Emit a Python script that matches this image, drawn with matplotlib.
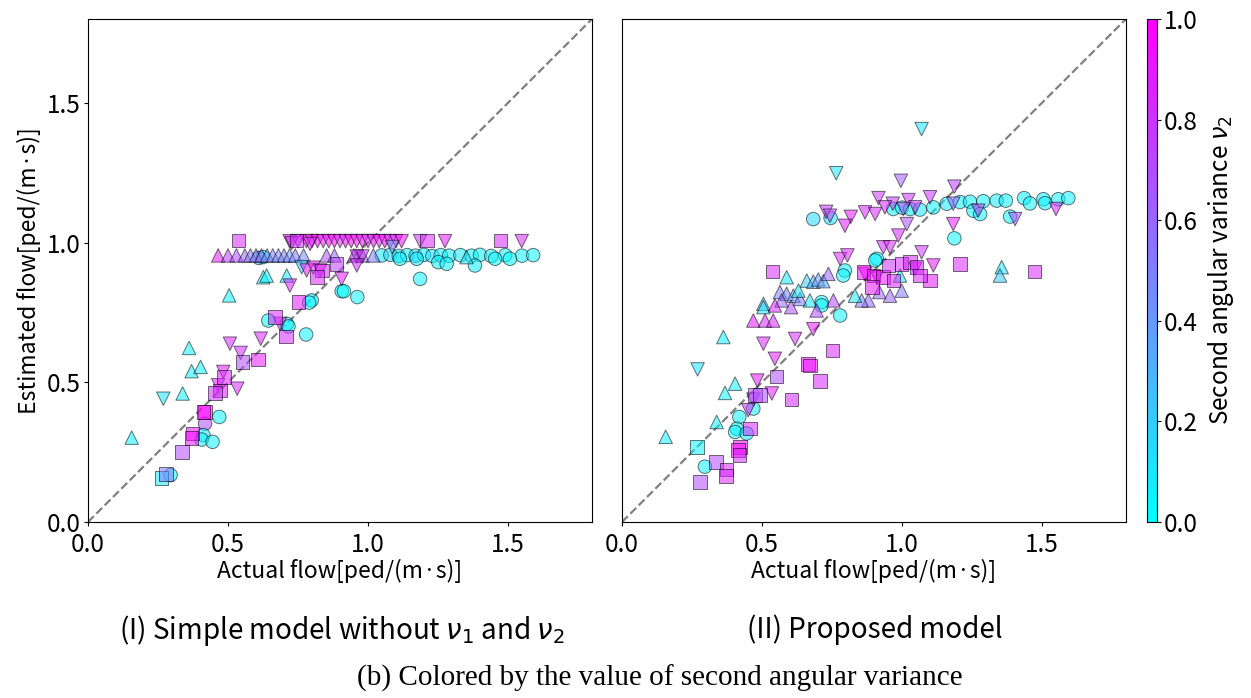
import numpy as np
import matplotlib.pyplot as plt

plt.rcParams['font.family'] = ['Noto Sans CJK JP', 'DejaVu Sans']

# ==== DATA: panel (I) simple model ====
l_circ_x = [1.049, 1.08, 1.11, 1.14, 1.17, 1.20, 1.23, 1.26, 1.29, 1.33, 1.37, 1.40, 1.44, 1.49, 1.55, 1.59,
            1.114, 1.174, 1.251, 1.281, 1.382, 1.454, 1.507, 1.186, 0.906, 0.914, 0.962, 0.799, 0.790,
            0.644, 0.710, 0.716, 0.779, 0.469, 0.418, 0.412, 0.406, 0.445, 0.295, 0.61, 0.625]
l_circ_y = [0.954, 0.956, 0.952, 0.955, 0.953, 0.956, 0.952, 0.955, 0.953, 0.955, 0.953, 0.956, 0.952, 0.955, 0.953, 0.955,
            0.942, 0.942, 0.930, 0.924, 0.918, 0.942, 0.942, 0.870, 0.826, 0.826, 0.805, 0.793, 0.785,
            0.721, 0.709, 0.700, 0.671, 0.376, 0.352, 0.311, 0.295, 0.287, 0.168, 0.945, 0.948]
l_circ_c = [0.1, 0.15, 0.1, 0.05, 0.1, 0.05, 0.1, 0.05, 0.05, 0.1, 0.05, 0.05, 0.05, 0.05, 0.05, 0.05,
            0.05, 0.1, 0.05, 0.05, 0.05, 0.05, 0.0, 0.05, 0.05, 0.0, 0.05, 0.05, 0.05,
            0.05, 0.05, 0.05, 0.05, 0.05, 0.7, 0.05, 0.05, 0.05, 0.05, 0.2, 0.15]

l_up_x = [0.465, 0.50, 0.53, 0.56, 0.58, 0.60, 0.62, 0.64, 0.66, 0.68, 0.70, 0.72, 0.74, 0.77,
          0.852, 0.88, 0.95, 0.98, 1.019, 1.352, 0.626, 0.638, 0.710, 0.504, 0.361, 0.370, 0.402, 0.338, 0.156]
l_up_y = [0.954, 0.954, 0.954, 0.954, 0.954, 0.954, 0.954, 0.954, 0.954, 0.954, 0.954, 0.954, 0.954, 0.954,
          0.954, 0.954, 0.954, 0.954, 0.954, 0.948, 0.876, 0.882, 0.882, 0.811, 0.623, 0.540, 0.555, 0.460, 0.302]
l_up_c = [0.9, 0.75, 0.7, 0.6, 0.5, 0.55, 0.6, 0.4, 0.5, 0.45, 0.5, 0.4, 0.5, 0.45,
          0.7, 0.6, 0.7, 0.6, 0.5, 0.1, 0.05, 0.05, 0.05, 0.05, 0.05, 0.05, 0.05, 0.05, 0.05]

l_down_x = [0.72, 0.75, 0.78, 0.80, 0.82, 0.84, 0.86, 0.88, 0.90, 0.92, 0.94, 0.96, 0.98, 1.00,
            1.02, 1.04, 1.06, 1.08, 1.10, 1.12, 1.186, 1.275, 1.549, 0.727, 0.793, 1.086, 0.96, 0.98,
            0.763, 0.781, 0.805, 0.829, 0.906, 0.960, 0.721, 0.686, 0.617, 0.507, 0.545, 0.483,
            0.465, 0.533, 0.269]
l_down_y = [1.005, 1.005, 1.005, 1.005, 1.005, 1.005, 1.005, 1.005, 1.005, 1.005, 1.005, 1.005, 1.005, 1.005,
            1.005, 1.005, 1.005, 1.005, 1.005, 1.005, 1.005, 1.005, 1.005, 0.998, 0.995, 0.984, 0.95, 0.95,
            0.912, 0.900, 0.910, 0.900, 0.870, 0.918, 0.846, 0.709, 0.656, 0.638, 0.605, 0.537,
            0.489, 0.477, 0.441]
l_down_c = [0.9, 0.95, 1.0, 0.95, 1.0, 0.9, 0.95, 1.0, 0.85, 0.95, 1.0, 0.9, 0.95, 0.85,
            0.95, 0.9, 1.0, 0.85, 0.9, 0.95, 0.8, 0.9, 0.85, 0.85, 0.85, 0.45, 0.8, 0.8,
            0.2, 0.9, 0.9, 0.9, 0.9, 0.85, 0.85, 0.85, 0.85, 0.85, 0.85, 0.9,
            0.9, 0.85, 0.1]

l_sq_x = [0.537, 0.745, 1.21, 1.474, 0.835, 0.817, 0.888, 0.751, 0.668, 0.707, 0.551, 0.608, 0.486,
          0.471, 0.454, 0.418, 0.412, 0.374, 0.370, 0.335, 0.263, 0.278]
l_sq_y = [1.007, 1.007, 1.007, 1.007, 0.900, 0.876, 0.924, 0.787, 0.733, 0.664, 0.573, 0.581, 0.519,
          0.471, 0.462, 0.394, 0.394, 0.317, 0.300, 0.251, 0.158, 0.171]
l_sq_c = [0.85, 0.8, 0.85, 0.85, 0.85, 0.85, 0.75, 0.9, 0.85, 0.85, 0.7, 0.9, 0.85,
          0.9, 0.8, 1.0, 0.95, 0.95, 0.95, 0.7, 0.1, 0.5]

# ==== DATA: panel (II) proposed model ====
r_circ_x = [0.683, 0.745, 0.969, 1.00, 1.029, 1.064, 1.112, 1.160, 1.207, 1.243, 1.290, 1.338, 1.371,
            1.436, 1.457, 1.505, 1.511, 1.558, 1.594, 1.255, 1.279, 1.386, 1.187, 0.910, 0.904, 0.796,
            0.790, 0.713, 0.713, 0.779, 0.469, 0.419, 0.410, 0.404, 0.445, 0.296]
r_circ_y = [1.084, 1.088, 1.120, 1.125, 1.120, 1.118, 1.126, 1.139, 1.145, 1.146, 1.148, 1.150, 1.150,
            1.159, 1.140, 1.155, 1.141, 1.155, 1.159, 1.114, 1.102, 1.093, 1.015, 0.942, 0.936, 0.900,
            0.882, 0.787, 0.775, 0.739, 0.406, 0.376, 0.334, 0.322, 0.317, 0.198]
r_circ_c = [0.15, 0.1, 0.05, 0.1, 0.05, 0.1, 0.05, 0.1, 0.05, 0.05, 0.05, 0.1, 0.05,
            0.05, 0.05, 0.05, 0.05, 0.05, 0.05, 0.05, 0.05, 0.05, 0.05, 0.05, 0.05, 0.05,
            0.05, 0.05, 0.05, 0.05, 0.05, 0.05, 0.05, 0.05, 0.05, 0.05]

r_down_x = [1.070, 0.765, 0.996, 1.187, 0.916, 0.967, 1.023, 1.100, 0.939, 1.005, 1.047, 0.868, 0.904,
            0.729, 0.743, 0.817, 0.796, 1.183, 1.272, 1.404, 1.550, 1.183, 0.987, 1.017, 0.933, 0.957,
            1.070, 0.779, 0.805, 0.868, 0.910, 1.047, 1.112, 0.505, 0.618, 0.683, 0.546, 0.270, 0.483,
            0.535, 0.469, 0.451]
r_down_y = [1.406, 1.248, 1.221, 1.200, 1.159, 1.139, 1.152, 1.162, 1.126, 1.120, 1.126, 1.108, 1.102,
            1.110, 1.096, 1.092, 1.060, 1.066, 1.114, 1.084, 1.120, 1.139, 1.025, 1.066, 0.983, 0.983,
            0.965, 0.941, 0.954, 0.888, 0.876, 0.906, 0.918, 0.638, 0.655, 0.690, 0.584, 0.546, 0.506,
            0.460, 0.438, 0.400]
r_down_c = [0.1, 0.1, 0.65, 0.75, 0.8, 0.75, 0.8, 0.8, 0.85, 0.7, 0.8, 0.85, 0.85,
            0.8, 0.75, 0.9, 0.9, 0.9, 0.75, 0.7, 0.85, 0.6, 0.85, 0.7, 0.85, 0.85,
            0.8, 0.85, 0.85, 0.95, 0.95, 0.9, 0.9, 0.85, 0.85, 0.9, 0.9, 0.1, 0.9,
            0.9, 0.75, 0.85]

r_up_x = [0.919, 0.957, 0.999, 0.880, 0.856, 0.993, 0.832, 1.356, 1.350, 0.588, 0.660, 0.683, 0.701,
          0.719, 0.737, 0.564, 0.588, 0.612, 0.636, 0.630, 0.570, 0.505, 0.505, 0.546, 0.604, 0.671,
          0.695, 0.755, 0.469, 0.511, 0.540, 0.362, 0.404, 0.368, 0.338, 0.156]
r_up_y = [0.823, 0.810, 0.828, 0.793, 0.793, 0.882, 0.810, 0.912, 0.882, 0.876, 0.864, 0.860, 0.868,
          0.862, 0.888, 0.823, 0.817, 0.810, 0.798, 0.828, 0.793, 0.781, 0.769, 0.775, 0.769, 0.793,
          0.757, 0.793, 0.721, 0.721, 0.721, 0.662, 0.495, 0.462, 0.358, 0.305]
r_up_c = [0.6, 0.6, 0.5, 0.6, 0.5, 0.1, 0.1, 0.1, 0.2, 0.1, 0.2, 0.3, 0.4,
          0.35, 0.6, 0.5, 0.45, 0.4, 0.5, 0.1, 0.6, 0.3, 0.1, 0.85, 0.7, 0.1,
          0.7, 0.7, 0.9, 0.85, 0.85, 0.05, 0.05, 0.05, 0.05, 0.05]

r_sq_x = [0.862, 0.898, 0.933, 0.951, 0.999, 1.029, 1.052, 1.100, 1.064, 0.892, 0.969, 1.207, 1.474,
          0.537, 0.751, 0.665, 0.671, 0.707, 0.552, 0.606, 0.475, 0.493, 0.457, 0.267, 0.421, 0.415,
          0.419, 0.336, 0.374, 0.371, 0.279]
r_sq_y = [0.894, 0.882, 0.876, 0.918, 0.924, 0.930, 0.912, 0.864, 0.882, 0.840, 0.864, 0.924, 0.897,
          0.897, 0.614, 0.565, 0.560, 0.505, 0.521, 0.438, 0.454, 0.454, 0.334, 0.269, 0.269, 0.257,
          0.239, 0.215, 0.188, 0.164, 0.144]
r_sq_c = [0.95, 0.95, 0.9, 0.8, 0.85, 0.85, 0.85, 0.9, 0.85, 0.9, 0.85, 0.85, 0.85,
          0.85, 0.85, 0.95, 0.9, 0.85, 0.7, 0.85, 0.7, 0.7, 0.85, 0.05, 0.95, 0.95,
          0.85, 0.7, 0.85, 0.85, 0.7]

panel_l = [('o', l_circ_x, l_circ_y, l_circ_c), ('^', l_up_x, l_up_y, l_up_c),
           ('v', l_down_x, l_down_y, l_down_c), ('s', l_sq_x, l_sq_y, l_sq_c)]
panel_r = [('o', r_circ_x, r_circ_y, r_circ_c), ('^', r_up_x, r_up_y, r_up_c),
           ('v', r_down_x, r_down_y, r_down_c), ('s', r_sq_x, r_sq_y, r_sq_c)]

ticks = [0.0, 0.5, 1.0, 1.5]
lim = 1.8

# ==== FIGURE ====
W, H = 1251, 698
fig = plt.figure(figsize=(W / 100, H / 100), dpi=100)
ax1 = fig.add_axes([88 / W, 1 - 522 / H, 504 / W, 503 / H])
ax2 = fig.add_axes([622 / W, 1 - 522 / H, 504 / W, 503 / H])
cax = fig.add_axes([1147 / W, 1 - 522 / H, 10 / W, 503 / H])

for ax, panel in [(ax1, panel_l), (ax2, panel_r)]:
    for m, xs, ys, cs in panel:
        sc = ax.scatter(xs, ys, c=cs, cmap='cool', vmin=0, vmax=1, marker=m, s=95,
                        alpha=0.55, edgecolors='k', linewidths=0.7, zorder=3)
    ax.axline((0, 0), slope=1, color='gray', linestyle='--', linewidth=1.6, zorder=2)
    ax.set_xlim(0, lim)
    ax.set_ylim(0, lim)
    ax.set_xticks(ticks)
    ax.tick_params(labelsize=17.5, length=3)
    ax.tick_params(axis='x', pad=4)
    ax.tick_params(axis='y', pad=2)
    ax.set_xlabel('Actual flow[ped/(m·s)]', fontsize=16.5, labelpad=1)

ax1.set_yticks(ticks)
ax1.set_ylabel('Estimated flow[ped/(m·s)]', fontsize=16.5, labelpad=4)
ax2.set_yticks([])

cb = fig.colorbar(sc, cax=cax)
cb.solids.set_alpha(1)
cb.set_ticks([0.0, 0.2, 0.4, 0.6, 0.8, 1.0])
cb.ax.tick_params(labelsize=17.5, length=3, pad=2)
cb.set_label(r'Second angular variance $\nu_2$', fontsize=17.5, labelpad=6)

fig.text(342 / W, 1 - 630 / H, r'(I) Simple model without $\nu_1$ and $\nu_2$', ha='center', va='center', fontsize=20)
fig.text(875 / W, 1 - 630 / H, '(II) Proposed model', ha='center', va='center', fontsize=20)
fig.text(660 / W, 1 - 678 / H, '(b) Colored by the value of second angular variance', ha='center', va='center',
         fontsize=21, family='Liberation Serif')

fig.savefig('out.png', dpi=100)
